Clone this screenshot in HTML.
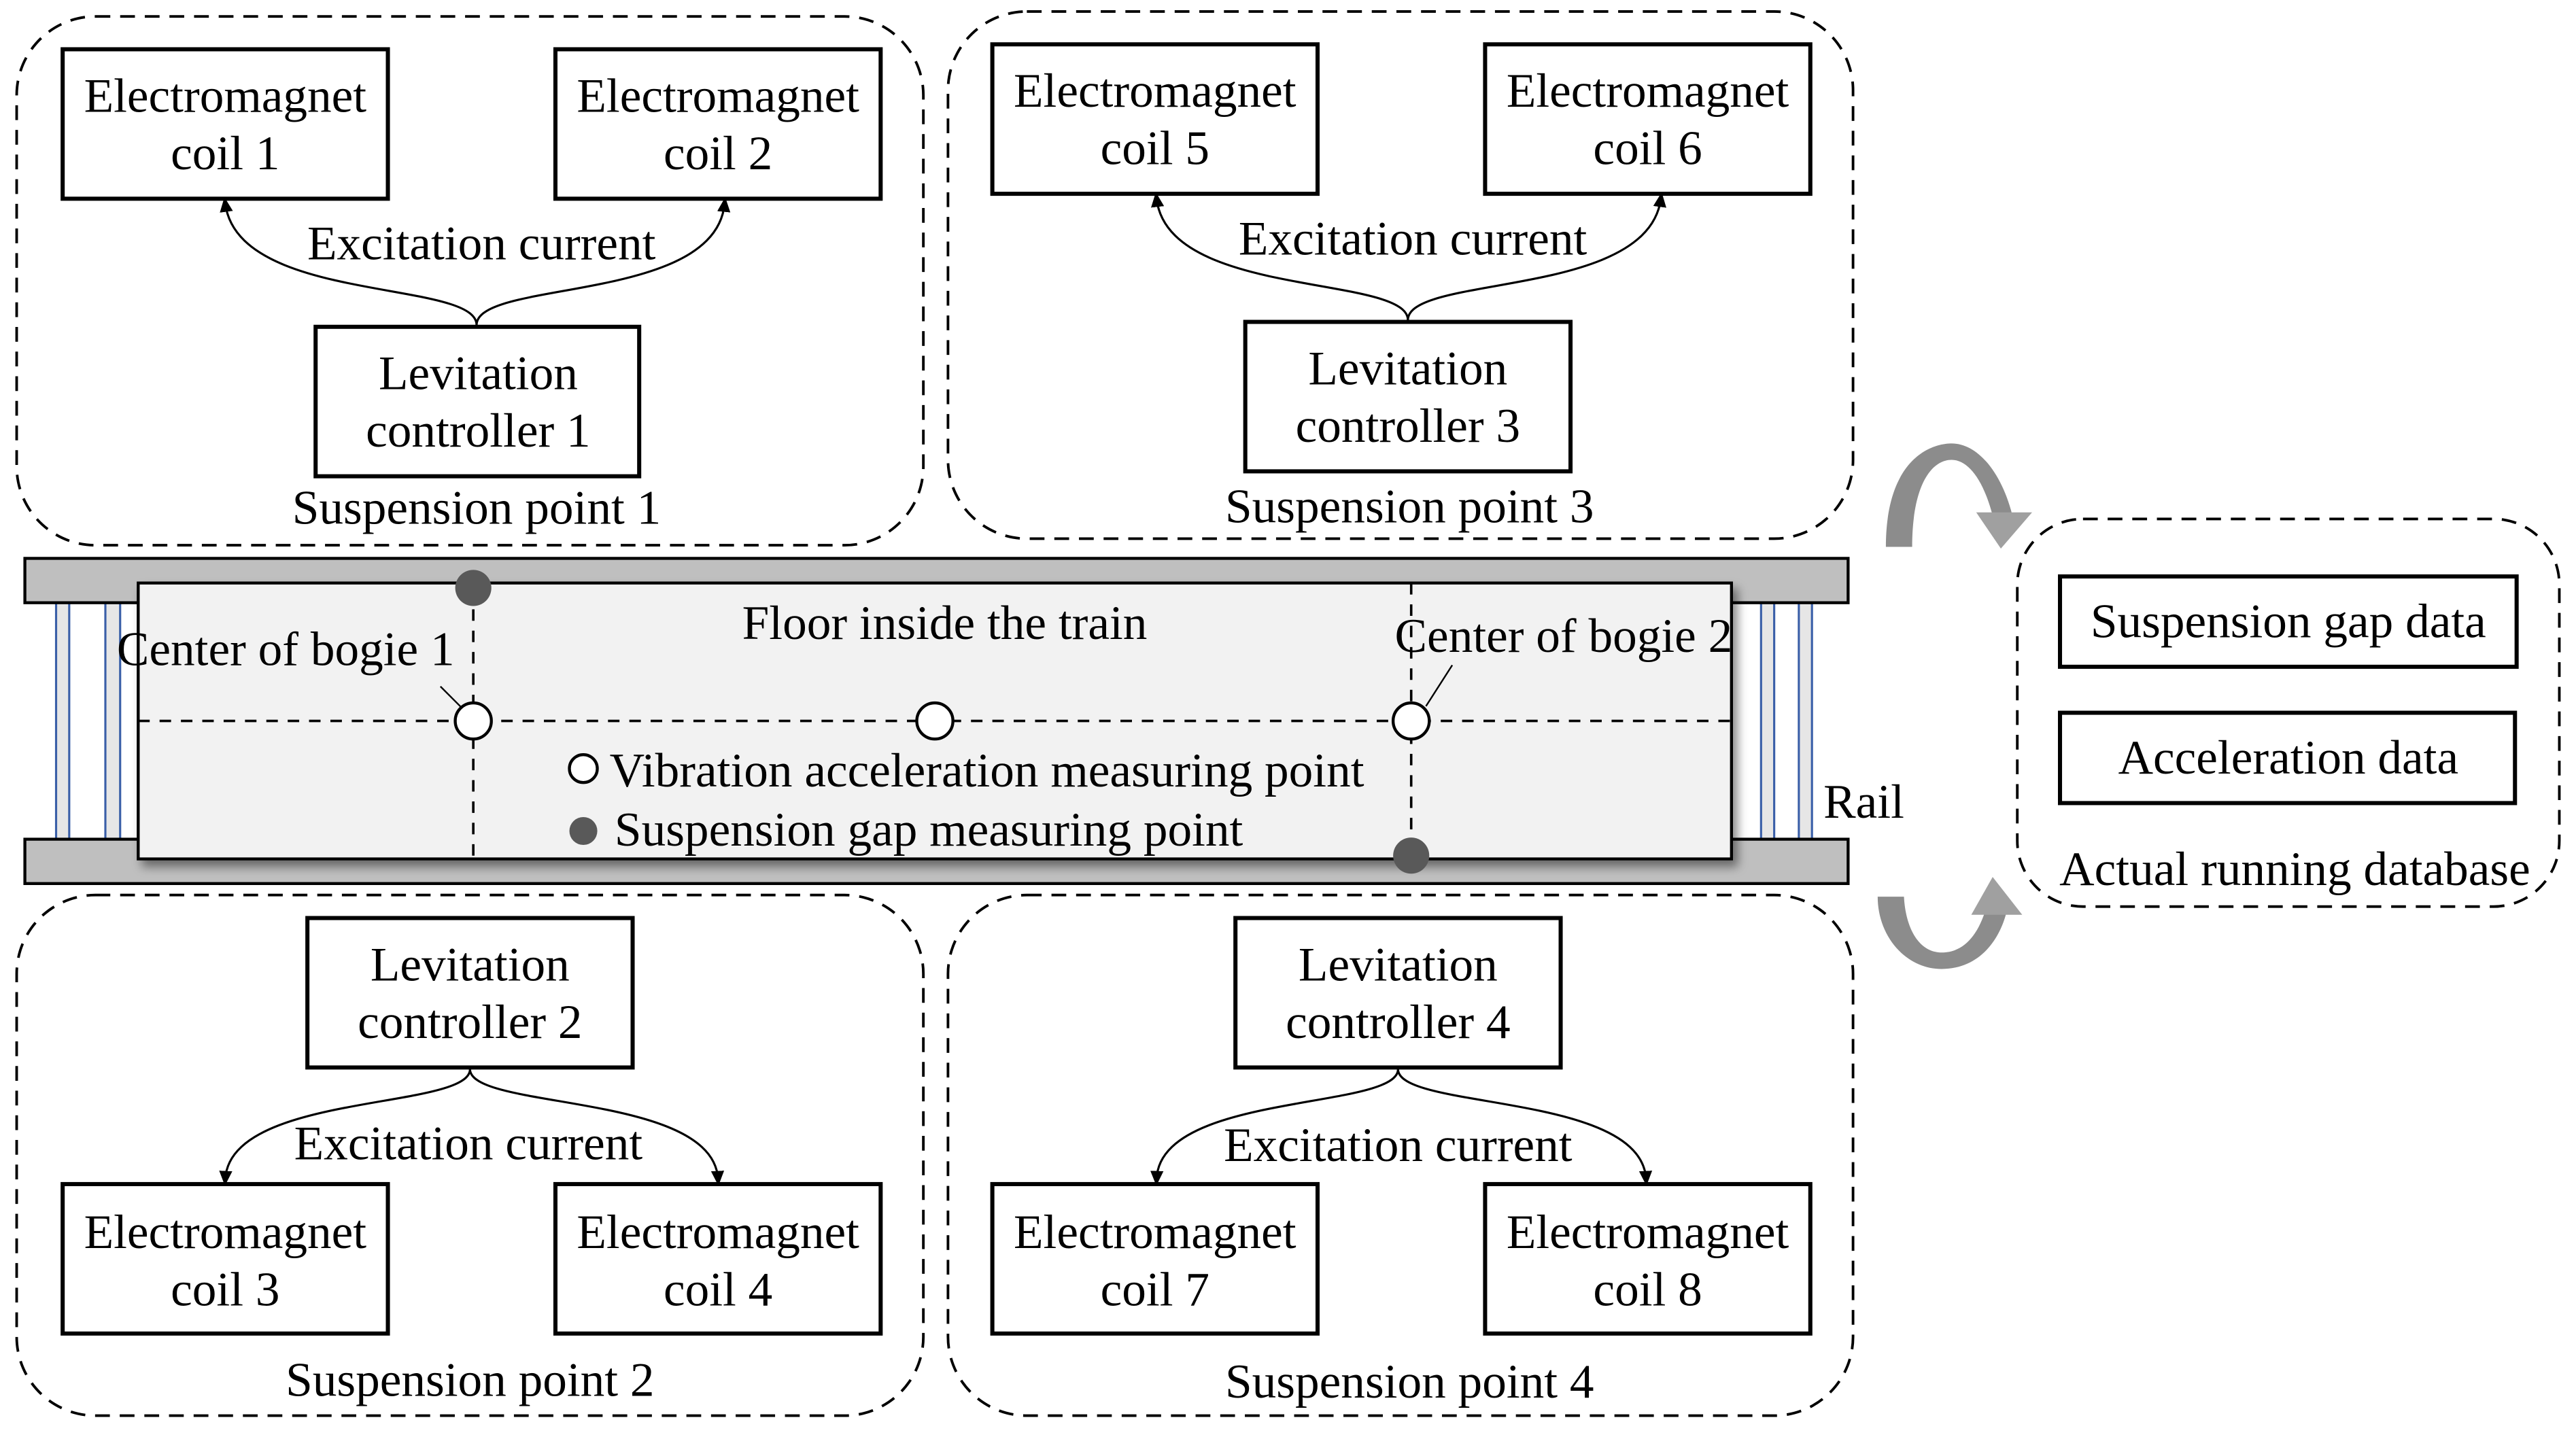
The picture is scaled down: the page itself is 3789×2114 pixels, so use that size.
<!DOCTYPE html>
<html><head><meta charset="utf-8"><style>
html,body{margin:0;padding:0;background:#fff}
svg{display:block}
text{font-family:"Liberation Serif",serif;font-size:29.5px;fill:#000}
</style></head><body>
<svg width="3789" height="2114" viewBox="0 0 1568 875" xmlns="http://www.w3.org/2000/svg">
<defs>
<marker id="ah" markerWidth="10" markerHeight="10" refX="5" refY="5" orient="auto" markerUnits="userSpaceOnUse">
<path d="M0,1 L9,5 L0,9 Z" fill="#000"/></marker>
<filter id="sh" x="-5%" y="-10%" width="115%" height="130%"><feDropShadow dx="3" dy="4" stdDeviation="3" flood-color="#000" flood-opacity="0.45"/></filter>
</defs>
<g fill="none" stroke="#000" stroke-width="1.6" stroke-dasharray="9,6">
<rect x="10" y="10" width="552" height="322" rx="48"/>
<rect x="577" y="7" width="551" height="321" rx="48"/>
<rect x="10" y="545" width="552" height="317" rx="48"/>
<rect x="577" y="545" width="551" height="317" rx="48"/>
<rect x="1228" y="316" width="330" height="236" rx="40"/>
</g>
<g fill="#fff" stroke="#000" stroke-width="2.5">
<rect x="38" y="30" width="198" height="91"/><rect x="338" y="30" width="198" height="91"/>
<rect x="192" y="199" width="197" height="91"/>
<rect x="604" y="27" width="198" height="91"/><rect x="904" y="27" width="198" height="91"/>
<rect x="758" y="196" width="198" height="91"/>
<rect x="187" y="559" width="198" height="91"/>
<rect x="38" y="721" width="198" height="91"/><rect x="338" y="721" width="198" height="91"/>
<rect x="752" y="559" width="198" height="91"/>
<rect x="604" y="721" width="198" height="91"/><rect x="904" y="721" width="198" height="91"/>
<rect x="1254" y="351" width="278" height="55"/><rect x="1254" y="434" width="277" height="55"/>
</g>
<g fill="none" stroke="#000" stroke-width="1.3">
<path d="M290,198 C290,170 145,185 137,124" marker-end="url(#ah)"/>
<path d="M290,198 C290,170 435,185 441,124" marker-end="url(#ah)"/>
<path d="M857,195 C857,167 711,182 704,121" marker-end="url(#ah)"/>
<path d="M857,195 C857,167 1003,182 1011,121" marker-end="url(#ah)"/>
<path d="M286,651 C286,676 140,665 137,718" marker-end="url(#ah)"/>
<path d="M286,651 C286,676 434,665 437,718" marker-end="url(#ah)"/>
<path d="M851,651 C851,676 706,665 704,718" marker-end="url(#ah)"/>
<path d="M851,651 C851,676 999,665 1002,718" marker-end="url(#ah)"/>
</g>
<g text-anchor="middle">
<text x="137" y="68">Electromagnet</text><text x="137" y="103">coil 1</text>
<text x="437" y="68">Electromagnet</text><text x="437" y="103">coil 2</text>
<text x="291" y="237">Levitation</text><text x="291" y="272">controller 1</text>
<text x="293" y="158">Excitation current</text>
<text x="290" y="319">Suspension point 1</text>
<text x="703" y="65">Electromagnet</text><text x="703" y="100">coil 5</text>
<text x="1003" y="65">Electromagnet</text><text x="1003" y="100">coil 6</text>
<text x="857" y="234">Levitation</text><text x="857" y="269">controller 3</text>
<text x="860" y="155">Excitation current</text>
<text x="858" y="318">Suspension point 3</text>
<text x="286" y="597">Levitation</text><text x="286" y="632">controller 2</text>
<text x="285" y="706">Excitation current</text>
<text x="137" y="760">Electromagnet</text><text x="137" y="795">coil 3</text>
<text x="437" y="760">Electromagnet</text><text x="437" y="795">coil 4</text>
<text x="286" y="850">Suspension point 2</text>
<text x="851" y="597">Levitation</text><text x="851" y="632">controller 4</text>
<text x="851" y="707">Excitation current</text>
<text x="703" y="760">Electromagnet</text><text x="703" y="795">coil 7</text>
<text x="1003" y="760">Electromagnet</text><text x="1003" y="795">coil 8</text>
<text x="858" y="851">Suspension point 4</text>
<text x="1393" y="388">Suspension gap data</text>
<text x="1393" y="471">Acceleration data</text>
<text x="1397" y="539">Actual running database</text>
</g>
<g stroke="#3a5fa8" stroke-width="1.3" fill="#e6e6e6">
<rect x="34" y="367" width="8" height="144"/><rect x="64" y="367" width="9" height="144"/>
<rect x="1072" y="367" width="8" height="144"/><rect x="1095" y="367" width="8" height="144"/>
</g>
<g fill="#bfbfbf" stroke="#000" stroke-width="1.8">
<rect x="15" y="340" width="1110" height="27"/>
<rect x="15" y="511" width="1110" height="27"/>
</g>
<rect x="84" y="355" width="970" height="168" fill="#f2f2f2" stroke="#000" stroke-width="1.8" filter="url(#sh)"/>
<g stroke="#000" stroke-width="1.5" stroke-dasharray="7,6" fill="none">
<line x1="84" y1="439" x2="1054" y2="439"/>
<line x1="288" y1="358" x2="288" y2="523"/>
<line x1="859" y1="355" x2="859" y2="521"/>
</g>
<g stroke="#000" stroke-width="1">
<line x1="268" y1="418" x2="281" y2="431"/><line x1="884" y1="405" x2="868" y2="430"/>
</g>
<g fill="#fff" stroke="#000" stroke-width="1.8">
<circle cx="288" cy="439" r="11"/><circle cx="569" cy="439" r="11"/><circle cx="859" cy="439" r="11"/>
<circle cx="355" cy="468" r="8.5"/>
</g>
<g fill="#595959">
<circle cx="288" cy="358" r="11"/><circle cx="859" cy="521" r="11"/><circle cx="355" cy="506" r="8.5"/>
</g>
<text x="575" y="389" text-anchor="middle">Floor inside the train</text>
<text x="71" y="405">Center of bogie 1</text>
<text x="849" y="397">Center of bogie 2</text>
<text x="371" y="479">Vibration acceleration measuring point</text>
<text x="374" y="515">Suspension gap measuring point</text>
<text x="1110" y="498">Rail</text>
<path d="M1148,333 C1148,280 1175,270 1188,270 C1205,270 1220,290 1226,318 L1214,318 C1208,292 1198,280 1188,280 C1176,280 1164,295 1164,333 Z" fill="#8c8c8c"/>
<path d="M1203,312 L1237,312 L1218,334 Z" fill="#a0a0a0"/>
<path d="M1143,546 C1143,570 1160,590 1182,590 C1205,590 1218,572 1222,553 L1209,553 C1204,570 1195,580 1182,580 C1168,580 1160,565 1159,546 Z" fill="#8c8c8c"/>
<path d="M1200,557 L1231,557 L1213,534 Z" fill="#a0a0a0"/>
</svg>
</body></html>
